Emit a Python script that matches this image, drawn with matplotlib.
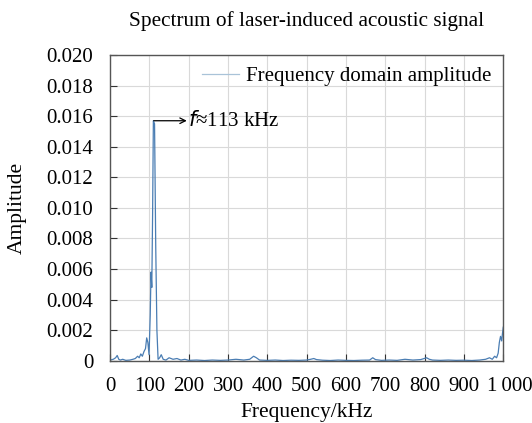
import numpy as np
import matplotlib.pyplot as plt
import matplotlib.transforms as mtransforms
from matplotlib.ticker import FuncFormatter

plt.rcParams['font.family'] = ['Liberation Serif', 'DejaVu Serif']

# spectrum (kHz, amplitude)
freq = [0, 8, 14, 18, 22, 26, 32, 40, 50, 58, 64, 70, 74, 78, 82, 86, 90, 93, 96, 99,
        102, 104, 106, 108, 110, 113, 116, 119, 122, 126, 130, 135, 142, 150, 160,
        170, 180, 190, 200, 220, 240, 260, 280, 300, 320, 340, 355, 365, 372, 380,
        400, 420, 440, 460, 480, 500, 510, 518, 525, 540, 560, 580, 600, 620, 640,
        660, 668, 675, 690, 710, 730, 750, 770, 790, 805, 812, 820, 840, 860, 880,
        900, 920, 940, 955, 965, 972, 978, 983, 987, 990, 993, 996, 998, 1000]
amp = [0.00005, 0.0001, 0.0002, 0.00035, 0.0001, 0.00005, 0.0001, 0.00003, 0.00005,
       0.0001, 0.00015, 0.0003, 0.0002, 0.00045, 0.0003, 0.0006, 0.0008, 0.0015,
       0.0012, 0.0004, 0.003, 0.0058, 0.0048, 0.0095, 0.0157, 0.0155, 0.0075,
       0.002, 0.0001, 0.0002, 0.0004, 0.0001, 0.00005, 0.0002, 0.0001, 0.00015,
       0.00005, 0.0001, 0.00003, 0.00005, 0.00002, 0.00005, 0.00003, 0.00005,
       0.0001, 0.00005, 0.0001, 0.0003, 0.0002, 0.00005, 0.00003, 0.00005,
       0.00002, 0.00004, 0.00003, 0.00005, 0.0001, 0.00015, 0.00008, 0.00004,
       0.00002, 0.00005, 0.00003, 0.00002, 0.00004, 0.00005, 0.0002, 0.00008,
       0.00003, 0.00005, 0.00003, 0.0001, 0.00005, 0.00008, 0.0002, 0.0001,
       0.00005, 0.00003, 0.00005, 0.00003, 0.00004, 0.00002, 0.00005, 0.0001,
       0.0002, 0.0001, 0.0003, 0.0002, 0.0005, 0.0012, 0.0016, 0.0013, 0.0018,
       0.0022]

xticks = list(range(0, 1001, 100))
yticks = [0.000, 0.002, 0.004, 0.006, 0.008, 0.010, 0.012, 0.014, 0.016, 0.018, 0.020]

fig = plt.figure(figsize=(5.32, 4.23), dpi=100)
ax = fig.add_axes([0.207, 0.147, 0.739, 0.723])

ax.plot(freq, amp, color='#4a7db3', lw=0.9, label='Frequency domain amplitude')

ax.set_xlim(0, 1000)
ax.set_ylim(0, 0.020)
ax.set_xticks(xticks)
ax.set_yticks(yticks)
ax.xaxis.set_major_formatter(FuncFormatter(lambda v, p: '1\u2009000' if v == 1000 else '%d' % v))
ax.yaxis.set_major_formatter(FuncFormatter(lambda v, p: '0' if v == 0 else '%.3f' % v))
ax.tick_params(direction='in', length=5, width=0.8, color='#333333', labelsize=15,
               top=False, right=False, pad=12)
ax.grid(True, color='#d9d9d9', lw=0.8)
for s in ax.spines.values():
    s.set_color('#555555')
    s.set_linewidth(1.0)

# last x label sits a little to the right in the original
shift = mtransforms.ScaledTranslation(4.5 / 72, 0, fig.dpi_scale_trans)
last = ax.xaxis.get_major_ticks()[-1]
last.label1.set_transform(last.label1.get_transform() + shift)

ax.annotate('', xy=(195, 0.0157), xytext=(111, 0.0157),
            arrowprops=dict(arrowstyle='->', color='black', lw=0.9, shrinkA=0, shrinkB=0))
ax.text(197, 0.0157, r'$\it{f}$≈113 kHz', fontsize=15, va='center', ha='left')

leg = ax.legend(loc='upper right', frameon=False, fontsize=15, handlelength=1.8,
                borderaxespad=0.15, handletextpad=0.35)
leg.get_lines()[0].set_color('#a9c3d8')

ax.set_title('Spectrum of laser-induced acoustic signal', fontsize=15.3, pad=21)
ax.set_xlabel('Frequency/kHz', fontsize=15.5, labelpad=5)
ax.set_ylabel('Amplitude', fontsize=15.5, labelpad=14)

fig.savefig('out.png', dpi=100)
